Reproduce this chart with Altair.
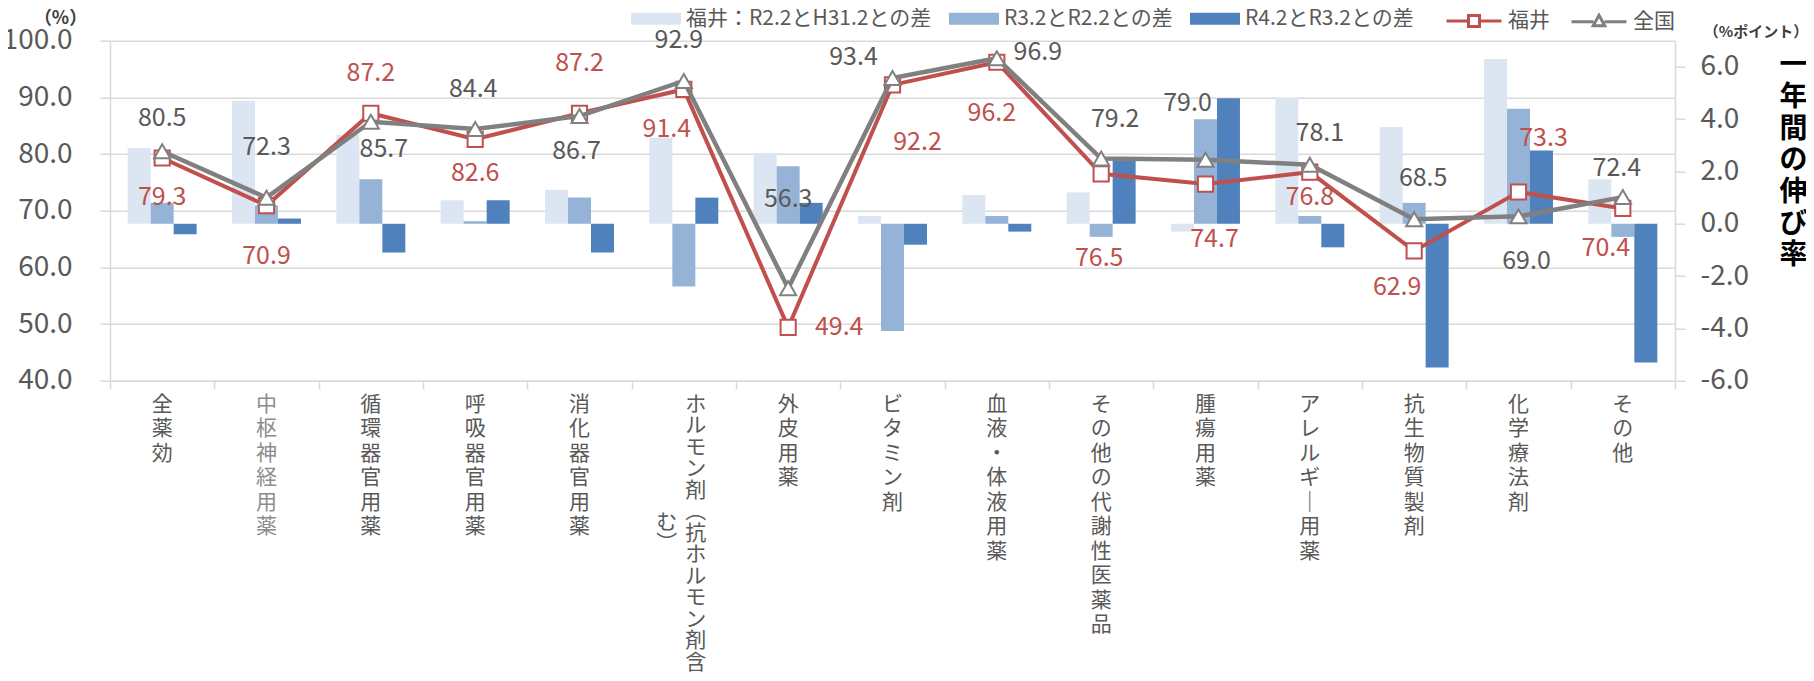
import altair as alt
import pandas as pd

# ---------------- data ----------------
categories = ["全薬効", "中枢神経用薬", "循環器官用薬", "呼吸器官用薬", "消化器官用薬",
              "ホルモン剤（抗ホルモン剤含む）", "外皮用薬", "ビタミン剤", "血液・体液用薬",
              "その他の代謝性医薬品", "腫瘍用薬", "アレルギー用薬", "抗生物質製剤", "化学療法剤", "その他"]
fukui = [79.3, 70.9, 87.2, 82.6, 87.2, 91.4, 49.4, 92.2, 96.2, 76.5, 74.7, 76.8, 62.9, 73.3, 70.4]
zenkoku = [80.5, 72.3, 85.7, 84.4, 86.7, 92.9, 56.3, 93.4, 96.9, 79.2, 79.0, 78.1, 68.5, 69.0, 72.4]
diff_r2_h31 = [2.9, 4.7, 3.4, 0.9, 1.3, 3.3, 2.7, 0.3, 1.1, 1.2, -0.3, 4.8, 3.7, 6.3, 1.7]
diff_r3_r2 = [0.8, 0.7, 1.7, 0.1, 1.0, -2.4, 2.2, -4.1, 0.3, -0.5, 4.0, 0.3, 0.8, 4.4, -0.5]
diff_r4_r3 = [-0.4, 0.2, -1.1, 0.9, -1.1, 1.0, 0.8, -0.8, -0.3, 2.5, 4.8, -0.9, -5.5, 2.8, -5.3]
bar_series = ["福井：R2.2とH31.2との差", "R3.2とR2.2との差", "R4.2とR3.2との差"]
line_series = ["福井", "全国"]

# label placement offsets (pixels) for the data labels
fukui_lab_dx = [0, 0, 0, 0, 0, -17, 51, 25, -5, -2, 9, 0, -17, 25, -17]
fukui_lab_dy = [39, 50, -40, 34, -50, 40, 0, 57, 51, 84, 55, 25, 36, -54, 40]
zen_lab_dx = [0, 0, 13, -2, -3, -5, 0, -39, 41, 14, -18, 10, 9, 8, -6]
zen_lab_dy = [-33, -51, 27, -40, 35, -41, -89, -21, -6, -40, -57, -32, -41, 45, -29]

# ---------------- styling ----------------
FONT = "Noto Sans CJK JP"
W, H = 1565, 340
GRID = "#D9D9D9"
TXT = "#595959"
BAR_COLORS = ["#DCE6F2", "#95B3D7", "#4F81BD"]
RED = "#C0504D"
GRAY = "#808080"

df_bar = pd.DataFrame({
    "cat": [c for _ in bar_series for c in categories],
    "series": [s for s in bar_series for _ in categories],
    "value": diff_r2_h31 + diff_r3_r2 + diff_r4_r3,
})
df_f = pd.DataFrame({"cat": categories, "value": fukui, "name": "福井",
                     "ldx": fukui_lab_dx, "ldy": fukui_lab_dy})
df_z = pd.DataFrame({"cat": categories, "value": zenkoku, "name": "全国",
                     "ldx": zen_lab_dx, "ldy": zen_lab_dy})


def vert(s):
    return s.replace("（", "︵").replace("）", "︶").replace("ー", "｜")


ROWS = 13
MULTI_LH = 21.5
lab_rows = []
for c in categories:
    ch = list(vert(c))
    lab_rows.append({"cat": c, "col1": ch[:ROWS], "col2": ch[ROWS:], "multi": len(ch) > ROWS})
df_lab = pd.DataFrame(lab_rows)
df_single = df_lab[~df_lab["multi"]][["cat", "col1"]]
df_multi = df_lab[df_lab["multi"]]
multi_dy = (len(df_multi.iloc[0]["col1"]) - len(df_multi.iloc[0]["col2"])) / 2 * MULTI_LH if len(df_multi) else 0

xscale = alt.Scale(domain=categories, paddingInner=0, paddingOuter=0)
xaxis = alt.Axis(labels=False, ticks=True, tickBand="extent", tickSize=8, tickColor=GRID,
                 tickWidth=1.5, domain=True, domainColor=GRID, domainWidth=1.5, grid=False, title=None)
X = alt.X("cat:N", sort=categories, scale=xscale, axis=xaxis)

# ---------------- bars (right axis) ----------------
right_axis = alt.Axis(
    orient="right", values=[-6, -4, -2, 0, 2, 4, 6],
    labelExpr="datum.value < 0 ? '-' + format(-datum.value, '.1f') : format(datum.value, '.1f')",
    labelFontSize=28, labelColor=TXT, labelPadding=15, tickSize=10, tickColor=GRID, tickWidth=1.5,
    domainColor=GRID, domainWidth=1.5, grid=False,
    title=list("一年間の伸び率"), titleAngle=0, titleX=118, titleY=11, titleAlign="center",
    titleBaseline="top", titleFontSize=28, titleLineHeight=31.7, titleColor="#000000",
    titleFontWeight=600,
)
bar_legend = alt.Legend(
    orient="none", legendX=521, legendY=-47, direction="horizontal", title=None,
    symbolType="M-1,-0.24H1V0.24H-1Z", symbolSize=2500, symbolStrokeWidth=0,
    labelFont=FONT, labelFontSize=21, labelColor=TXT, labelOffset=5, columnPadding=17,
    labelLimit=400,
)
bars = alt.Chart(df_bar).mark_bar().encode(
    x=X,
    xOffset=alt.XOffset("series:N", sort=bar_series,
                        scale=alt.Scale(domain=bar_series, paddingInner=0, paddingOuter=0.77)),
    y=alt.Y("value:Q", scale=alt.Scale(domain=[-6, 7], nice=False, zero=False), axis=right_axis),
    fill=alt.Fill("series:N", scale=alt.Scale(domain=bar_series, range=BAR_COLORS), legend=bar_legend),
)

# ---------------- lines (left axis) ----------------
left_axis = alt.Axis(
    orient="left", values=[40, 50, 60, 70, 80, 90, 100], format=".1f",
    labelFontSize=28, labelColor=TXT, labelPadding=28, tickSize=10, tickColor=GRID, tickWidth=1.5,
    domainColor=GRID, domainWidth=1.5, grid=True, gridColor=GRID, gridWidth=1.5,
    title="（%）", titleAngle=0, titleX=-50, titleY=-22, titleAlign="center", titleBaseline="middle",
    titleFontSize=18, titleFontWeight="bold", titleColor="#404040",
)
yscale_l = alt.Scale(domain=[40, 100], nice=False, zero=False)
Y = alt.Y("value:Q", scale=yscale_l, axis=left_axis)

SQ = "M-1,0H-0.2M0.2,0H1M-0.2,-0.2H0.2V0.2H-0.2Z"
TRI = "M-1,0H-0.2M0.2,0H1M0,-0.23L0.21,0.15H-0.21Z"
line_legend = alt.Legend(
    orient="none", legendX=1335, legendY=-49, direction="horizontal", title=None,
    symbolSize=3025, symbolStrokeWidth=3, symbolFillColor="white", symbolOpacity=1,
    labelFont=FONT, labelFontSize=21, labelColor=TXT, labelOffset=5, columnPadding=15,
    labelLimit=200,
)
S = alt.Stroke("name:N", scale=alt.Scale(domain=line_series, range=[RED, GRAY]), legend=line_legend)
SH = alt.Shape("name:N", scale=alt.Scale(domain=line_series, range=[SQ, TRI]), legend=line_legend)

red_line = alt.Chart(df_f).mark_line(strokeWidth=4).encode(x=X, y=Y, stroke=S)
red_pts = alt.Chart(df_f).mark_point(shape="square", size=230, filled=True, fill="white",
                                     strokeWidth=2, opacity=1).encode(x=X, y=Y, stroke=S)
gray_line = alt.Chart(df_z).mark_line(strokeWidth=4.5).encode(x=X, y=Y, stroke=S)
gray_pts = alt.Chart(df_z).mark_point(shape="triangle-up", size=260, filled=True, fill="white",
                                      strokeWidth=2, opacity=1).encode(x=X, y=Y, stroke=S)
# legend carrier: no visible marks, only provides line+marker legend symbols
legend_carrier = alt.Chart(df_f).transform_filter("false").mark_point(
    size=3025, filled=False, strokeWidth=3, opacity=1).encode(x=X, y=Y, stroke=S, shape=SH)

red_lab = alt.Chart(df_f).mark_text(
    fontSize=25, color=RED, baseline="middle",
    dx=alt.expr("datum.ldx"), dy=alt.expr("datum.ldy")).encode(
    x=X, y=Y, text=alt.Text("value:Q", format=".1f"))
gray_lab = alt.Chart(df_z).mark_text(
    fontSize=25, color=TXT, baseline="middle",
    dx=alt.expr("datum.ldx"), dy=alt.expr("datum.ldy")).encode(
    x=X, y=Y, text=alt.Text("value:Q", format=".1f"))

lines = alt.layer(red_line, red_pts, gray_line, gray_pts, legend_carrier, red_lab, gray_lab)

# ---------------- category labels (vertical text) ----------------
LAB_Y = 353
lab_single = alt.Chart(df_single).mark_text(
    baseline="top", align="center", fontSize=21, lineHeight=24.5).encode(
    x=X, y=alt.value(LAB_Y), text="col1:N",
    color=alt.condition(alt.datum.cat == "中枢神経用薬", alt.value("#8C8C8C"), alt.value(TXT)))
lab_multi1 = alt.Chart(df_multi[["cat", "col1"]]).mark_text(
    baseline="top", align="center", fontSize=21, lineHeight=MULTI_LH, dx=12, color=TXT).encode(
    x=X, y=alt.value(LAB_Y), text="col1:N")
lab_multi2 = alt.Chart(df_multi[["cat", "col2"]]).mark_text(
    baseline="top", align="center", fontSize=21, lineHeight=MULTI_LH, dx=-17, dy=multi_dy,
    color=TXT).encode(
    x=X, y=alt.value(LAB_Y), text="col2:N")

unit_note = alt.Chart(pd.DataFrame({"t": ["（%ポイント）"]})).mark_text(
    fontSize=15, fontWeight="bold", color="#404040", align="center", baseline="middle").encode(
    x=alt.value(1646), y=alt.value(-9), text="t:N")

chart = alt.layer(bars, lines, lab_single, lab_multi1, lab_multi2, unit_note).resolve_scale(
    y="independent"
).properties(
    width=W, height=H,
    padding={"left": 102, "top": 32.7, "right": 131, "bottom": 292},
    autosize=alt.AutoSizeParams(type="none"),
).configure(font=FONT).configure_view(stroke=None)

chart.save("out.html", embed_options={"renderer": "svg", "actions": False})
